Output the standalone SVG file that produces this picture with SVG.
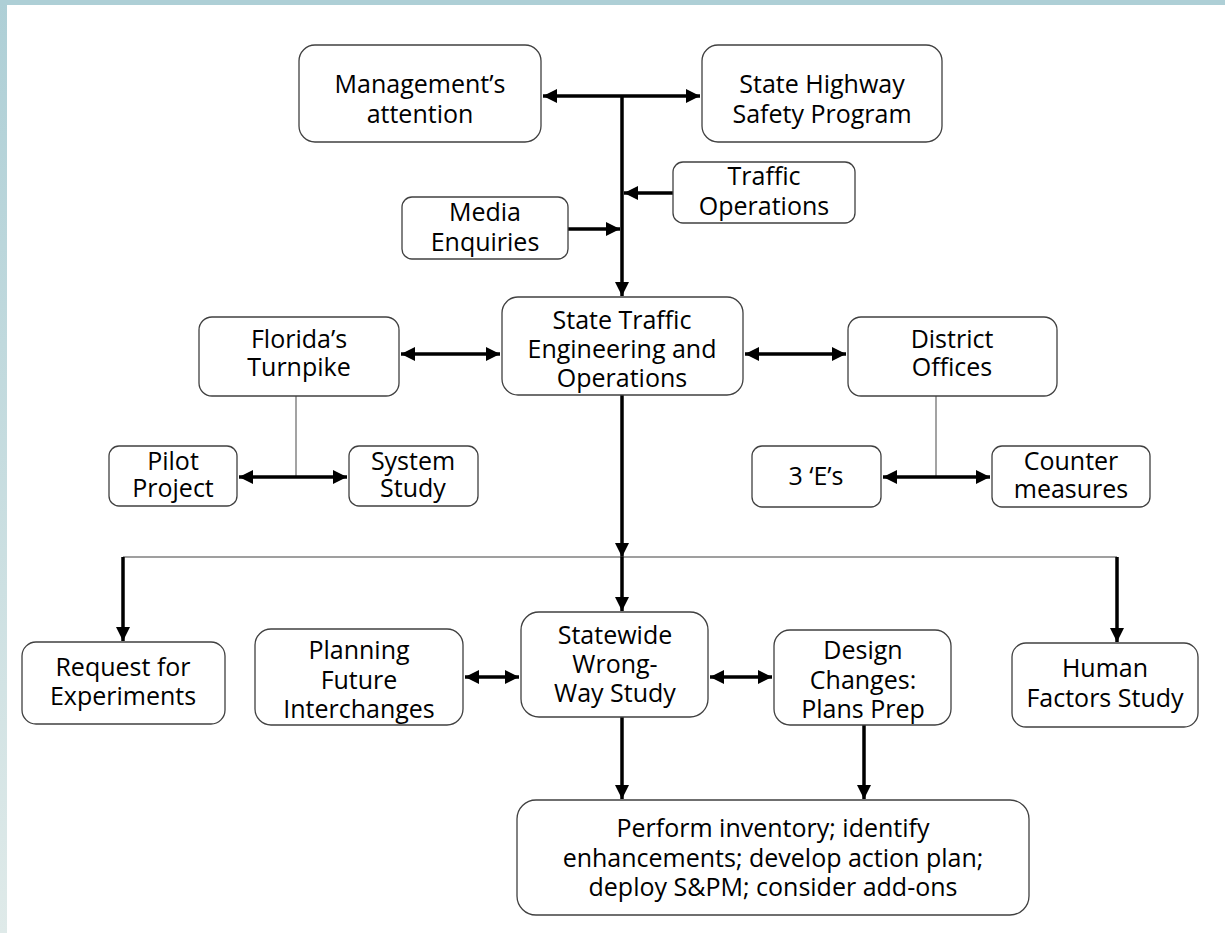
<svg xmlns="http://www.w3.org/2000/svg" width="1225" height="933" viewBox="0 0 1225 933">
<defs>
<linearGradient id="band" x1="0" y1="0" x2="0" y2="1">
<stop offset="0" stop-color="#aecfd6"/>
<stop offset="1" stop-color="#dfeae9"/>
</linearGradient>
<marker id="ah" viewBox="0 0 10 10" refX="10" refY="5" markerWidth="15" markerHeight="14" markerUnits="userSpaceOnUse" orient="auto-start-reverse">
<path d="M0,0 L10,5 L0,10 Z" fill="#000"/>
</marker>
<style>
.box{fill:#fff;stroke:#404040;stroke-width:1.3}
.t{font-family:"Open Sans",Lato,"Liberation Sans",sans-serif;font-size:25px;fill:#000;text-anchor:middle}
.thick{stroke:#000;stroke-width:3.5;fill:none}
.thin{stroke:#666;stroke-width:1.2;fill:none}
</style>
</defs>
<rect width="1225" height="933" fill="#fff"/>
<rect x="0" y="0" width="7" height="933" fill="url(#band)"/>
<rect x="0" y="0" width="1225" height="5" fill="#aecfd6"/>

<g id="connectors">
<line class="thick" x1="543" y1="96" x2="700" y2="96" marker-start="url(#ah)" marker-end="url(#ah)"/>
<line class="thick" x1="622" y1="96" x2="622" y2="296" marker-end="url(#ah)"/>
<line class="thick" x1="673" y1="193" x2="624" y2="193" marker-end="url(#ah)"/>
<line class="thick" x1="568" y1="229" x2="620" y2="229" marker-end="url(#ah)"/>
<line class="thick" x1="401" y1="354" x2="500" y2="354" marker-start="url(#ah)" marker-end="url(#ah)"/>
<line class="thick" x1="745" y1="354" x2="846" y2="354" marker-start="url(#ah)" marker-end="url(#ah)"/>
<line class="thin" x1="296" y1="396" x2="296" y2="477"/>
<line class="thick" x1="239" y1="477" x2="347" y2="477" marker-start="url(#ah)" marker-end="url(#ah)"/>
<line class="thin" x1="936" y1="396" x2="936" y2="477"/>
<line class="thick" x1="883" y1="477" x2="990" y2="477" marker-start="url(#ah)" marker-end="url(#ah)"/>
<line class="thick" x1="622" y1="395" x2="622" y2="557" marker-end="url(#ah)"/>
<line class="thin" style="stroke:#404040" x1="123" y1="557" x2="1117" y2="557"/>
<line class="thick" x1="622" y1="557" x2="622" y2="611" marker-end="url(#ah)"/>
<line class="thick" x1="123" y1="557" x2="123" y2="641" marker-end="url(#ah)"/>
<line class="thick" x1="1117" y1="557" x2="1117" y2="642" marker-end="url(#ah)"/>
<line class="thick" x1="465" y1="677" x2="519" y2="677" marker-start="url(#ah)" marker-end="url(#ah)"/>
<line class="thick" x1="710" y1="677" x2="772" y2="677" marker-start="url(#ah)" marker-end="url(#ah)"/>
<line class="thick" x1="622" y1="717" x2="622" y2="799" marker-end="url(#ah)"/>
<line class="thick" x1="864" y1="725" x2="864" y2="799" marker-end="url(#ah)"/>
</g>

<g id="n-management"><rect class="box" x="299" y="45" width="242" height="97" rx="16"/>
<text class="t" x="420" y="93">Management’s</text><text class="t" x="420" y="123">attention</text></g>
<g id="n-shsp"><rect class="box" x="702" y="45" width="240" height="97" rx="16"/>
<text class="t" x="822" y="93">State Highway</text><text class="t" x="822" y="123">Safety Program</text></g>
<g id="n-trafficops"><rect class="box" x="673" y="162" width="182" height="61" rx="10"/>
<text class="t" x="764" y="185">Traffic</text><text class="t" x="764" y="215">Operations</text></g>
<g id="n-media"><rect class="box" x="402" y="197" width="166" height="62" rx="10"/>
<text class="t" x="485" y="221">Media</text><text class="t" x="485" y="251">Enquiries</text></g>
<g id="n-state"><rect class="box" x="502" y="297" width="241" height="98" rx="16"/>
<text class="t" x="622" y="329">State Traffic</text><text class="t" x="622" y="358">Engineering and</text><text class="t" x="622" y="387">Operations</text></g>
<g id="n-turnpike"><rect class="box" x="199" y="317" width="200" height="79" rx="13"/>
<text class="t" x="299" y="348">Florida’s</text><text class="t" x="299" y="376">Turnpike</text></g>
<g id="n-district"><rect class="box" x="848" y="317" width="209" height="79" rx="13"/>
<text class="t" x="952" y="348">District</text><text class="t" x="952" y="376">Offices</text></g>
<g id="n-pilot"><rect class="box" x="109" y="446" width="128" height="60" rx="10"/>
<text class="t" x="173" y="470">Pilot</text><text class="t" x="173" y="497">Project</text></g>
<g id="n-system"><rect class="box" x="349" y="446" width="129" height="60" rx="10"/>
<text class="t" x="413" y="470">System</text><text class="t" x="413" y="497">Study</text></g>
<g id="n-3es"><rect class="box" x="752" y="446" width="129" height="61" rx="10"/>
<text class="t" x="816" y="485">3 ‘E’s</text></g>
<g id="n-counter"><rect class="box" x="992" y="446" width="158" height="61" rx="10"/>
<text class="t" x="1071" y="470">Counter</text><text class="t" x="1071" y="498">measures</text></g>
<g id="n-request"><rect class="box" x="22" y="642" width="203" height="82" rx="14"/>
<text class="t" x="123" y="676">Request for</text><text class="t" x="123" y="705">Experiments</text></g>
<g id="n-planning"><rect class="box" x="255" y="629" width="208" height="96" rx="16"/>
<text class="t" x="359" y="659">Planning</text><text class="t" x="359" y="689">Future</text><text class="t" x="359" y="718">Interchanges</text></g>
<g id="n-statewide"><rect class="box" x="521" y="612" width="187" height="105" rx="18"/>
<text class="t" x="615" y="644">Statewide</text><text class="t" x="615" y="673">Wrong-</text><text class="t" x="615" y="702">Way Study</text></g>
<g id="n-design"><rect class="box" x="774" y="630" width="177" height="95" rx="16"/>
<text class="t" x="863" y="659">Design</text><text class="t" x="863" y="689">Changes:</text><text class="t" x="863" y="718">Plans Prep</text></g>
<g id="n-human"><rect class="box" x="1012" y="643" width="186" height="84" rx="14"/>
<text class="t" x="1105" y="677">Human</text><text class="t" x="1105" y="707">Factors Study</text></g>
<g id="n-perform"><rect class="box" x="517" y="800" width="512" height="115" rx="19"/>
<text class="t" x="773" y="837">Perform inventory; identify</text><text class="t" x="773" y="867">enhancements; develop action plan;</text><text class="t" x="773" y="896">deploy S&amp;PM; consider add-ons</text></g>
</svg>
